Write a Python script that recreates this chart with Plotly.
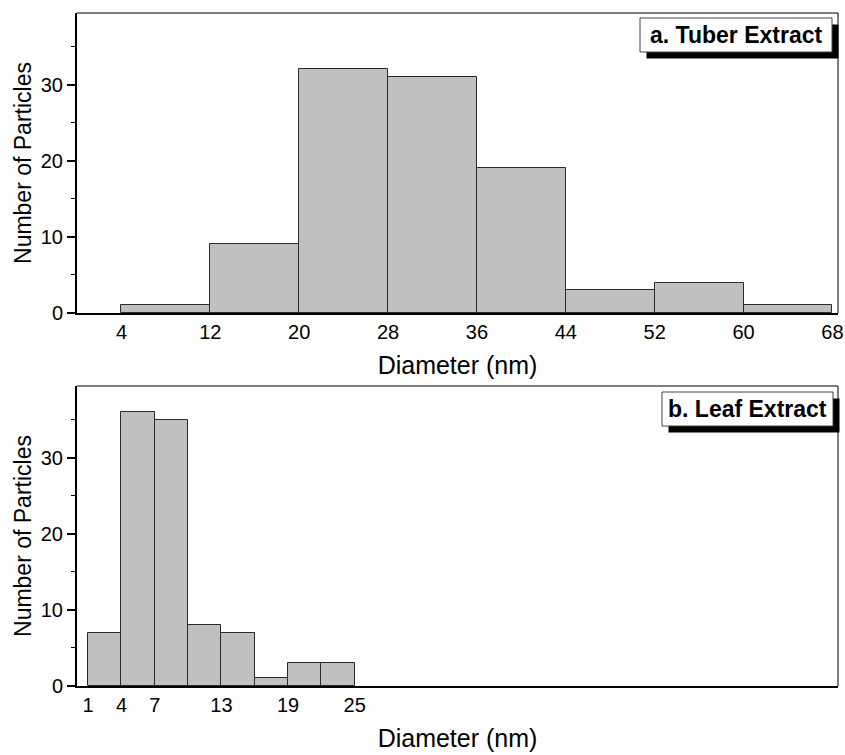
import plotly.graph_objects as go

# ---------------- data ----------------
tuber_edges = [4, 12, 20, 28, 36, 44, 52, 60, 68]
tuber_counts = [1, 9, 32, 31, 19, 3, 4, 1]
tuber_ticks = [4, 12, 20, 28, 36, 44, 52, 60, 68]

leaf_edges = [1, 4, 7, 10, 13, 16, 19, 22, 25]
leaf_counts = [7, 36, 35, 8, 7, 1, 3, 3]
leaf_ticks = [1, 4, 7, 13, 19, 25]

y_ticks = [0, 10, 20, 30]
labels = {"a": "a. Tuber Extract", "b": "b. Leaf Extract"}
x_title = "Diameter (nm)"
y_title = "Number of Particles"

# ---------------- layout geometry (pixels) ----------------
W, H = 845, 755
L, R, T, B = 77, 7, 13, 69
PW = W - L - R
PH = H - T - B
top_px = (13, 313)
bot_px = (386, 686)


def py(p):
    return (H - B - p) / PH


def px(p):
    return (p - L) / PW


FONT = "Liberation Sans, Arial, sans-serif"
BAR_FILL = "#c0c0c0"
BAR_LINE = "#2a2a2a"


def centers(edges):
    return [(edges[i] + edges[i + 1]) / 2 for i in range(len(edges) - 1)]


def widths(edges):
    return [edges[i + 1] - edges[i] for i in range(len(edges) - 1)]


fig = go.Figure()
fig.add_trace(go.Bar(x=centers(tuber_edges), y=tuber_counts, width=widths(tuber_edges),
                     marker=dict(color=BAR_FILL, line=dict(color=BAR_LINE, width=1)),
                     xaxis="x", yaxis="y", showlegend=False))
fig.add_trace(go.Bar(x=centers(leaf_edges), y=leaf_counts, width=widths(leaf_edges),
                     marker=dict(color=BAR_FILL, line=dict(color=BAR_LINE, width=1)),
                     xaxis="x2", yaxis="y2", showlegend=False))

xcommon = dict(range=[0, 68.5], showline=True, linecolor="black", linewidth=2,
               ticks="", showgrid=False, zeroline=False, ticklabelstandoff=0,
               tickfont=dict(size=20, color="black", family=FONT),
               title=dict(text=x_title, font=dict(size=25, color="black", family=FONT), standoff=14))
ycommon = dict(range=[0, 39.4], showline=True, linecolor="black", linewidth=2,
               ticks="outside", ticklen=8, tickwidth=1.5, tickcolor="black",
               tickvals=y_ticks, showgrid=False, zeroline=False,
               minor=dict(dtick=5, tick0=0, ticks="outside", ticklen=4, tickwidth=1.2, tickcolor="black", showgrid=False),
               tickfont=dict(size=20, color="black", family=FONT),
               title=dict(text=y_title, font=dict(size=23, color="black", family=FONT), standoff=3))

fig.update_layout(
    width=W, height=H,
    margin=dict(l=L, r=R, t=T, b=B, autoexpand=False),
    paper_bgcolor="white", plot_bgcolor="white",
    font=dict(family=FONT, color="black"),
    bargap=0,
    xaxis=dict(domain=[0, 1], anchor="y", tickvals=tuber_ticks, **xcommon),
    yaxis=dict(domain=[py(top_px[1]), py(top_px[0])], anchor="x", **ycommon),
    xaxis2=dict(domain=[0, 1], anchor="y2", tickvals=leaf_ticks, **xcommon),
    yaxis2=dict(domain=[py(bot_px[1]), py(bot_px[0])], anchor="x2", **ycommon),
)

shapes = []
# thin top/right frame lines
for (t, b) in (top_px, bot_px):
    shapes.append(dict(type="line", xref="paper", yref="paper", x0=0, x1=1, y0=py(t), y1=py(t),
                       line=dict(color="black", width=1)))
    shapes.append(dict(type="line", xref="paper", yref="paper", x0=1, x1=1, y0=py(t), y1=py(b),
                       line=dict(color="black", width=1)))

# label boxes with drop shadow
boxes = [("a", 640, 832, 18, 52), ("b", 662, 833, 392, 426)]
for key, x0, x1, y0, y1 in boxes:
    off = 6.5
    shapes.append(dict(type="rect", xref="paper", yref="paper",
                       x0=px(x0 + off), x1=px(x1 + off), y0=py(y1 + off), y1=py(y0 + off),
                       fillcolor="black", line=dict(width=0), layer="above"))
    shapes.append(dict(type="rect", xref="paper", yref="paper",
                       x0=px(x0), x1=px(x1), y0=py(y1), y1=py(y0),
                       fillcolor="white", line=dict(color="#444", width=1), layer="above"))
    fig.add_annotation(xref="paper", yref="paper", x=px((x0 + x1) / 2), y=py((y0 + y1) / 2),
                       text="<b>%s</b>" % labels[key], showarrow=False,
                       font=dict(size=23, color="black", family=FONT),
                       xanchor="center", yanchor="middle")

fig.update_layout(shapes=shapes)
fig.write_html("out.html")
